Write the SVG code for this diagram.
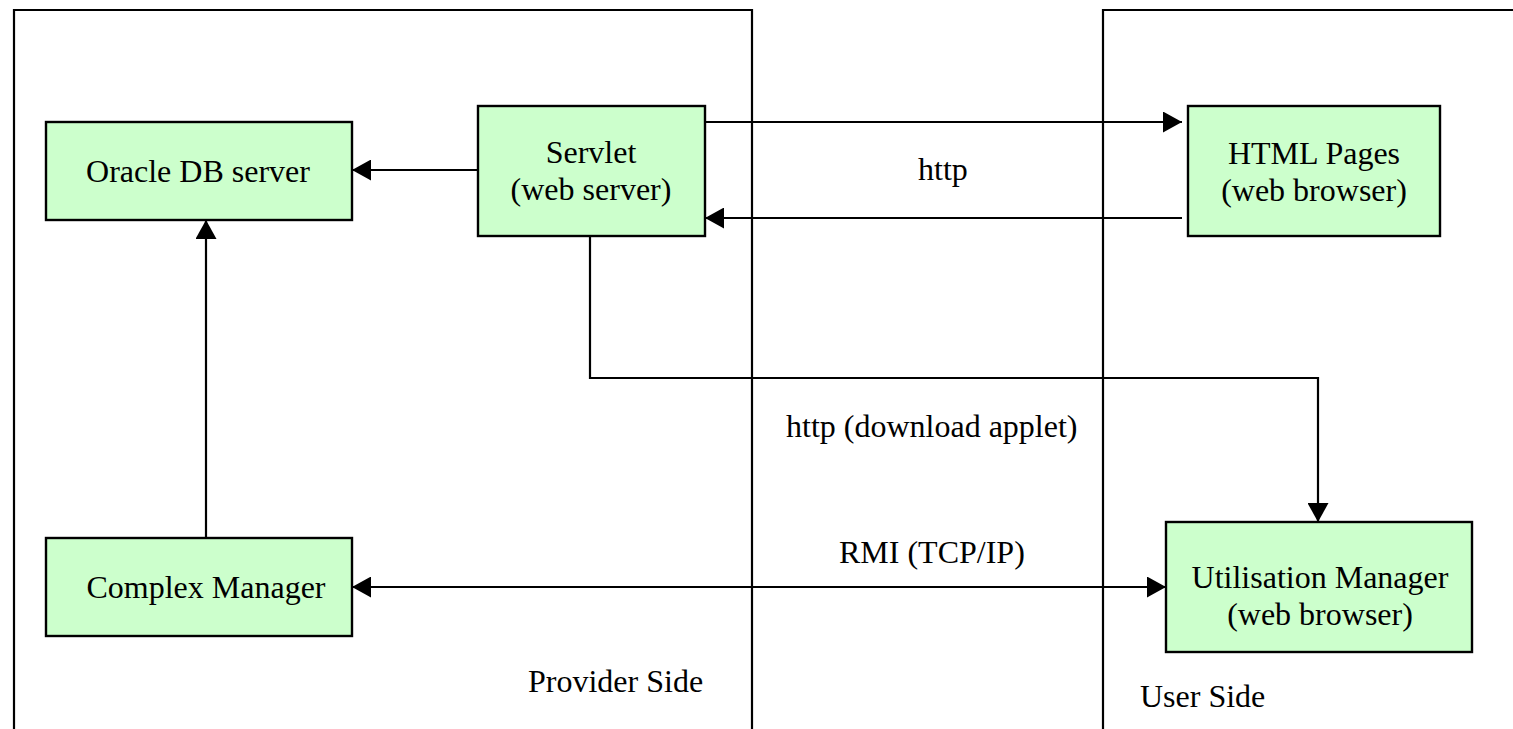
<svg xmlns="http://www.w3.org/2000/svg" width="1513" height="729" viewBox="0 0 1513 729">
  <style>
    .frame { fill: none; stroke: #000; stroke-width: 2.2; }
    .node rect { fill: #ccffcc; stroke: #000; stroke-width: 2.4; }
    .node text, .label { font-family: "Liberation Serif", "Times New Roman", serif; font-size: 32px; fill: #000; }
    .node text { text-anchor: middle; }
    .conn { fill: none; stroke: #000; stroke-width: 2.2; }
  </style>
  <defs>
    <marker id="arrow" markerUnits="userSpaceOnUse" markerWidth="20" markerHeight="21" refX="19" refY="10.5" orient="auto-start-reverse">
      <path d="M0,0 L19,10.5 L0,21 Z" fill="#000"/>
    </marker>
  </defs>

  <rect width="1513" height="729" fill="#fff"/>

  <!-- side frames -->
  <g id="provider-side">
    <path class="frame" d="M14,729 V10 H752 V729"/>
    <text class="label" x="528" y="692">Provider Side</text>
  </g>
  <g id="user-side">
    <path class="frame" d="M1103,729 V10 H1513"/>
    <text class="label" x="1140" y="707">User Side</text>
  </g>

  <!-- connectors -->
  <g id="connectors">
    <path class="conn" d="M477,170 H352" marker-end="url(#arrow)"/>
    <path class="conn" d="M206,538 V220" marker-end="url(#arrow)"/>
    <path class="conn" d="M705,122 H1182" marker-end="url(#arrow)"/>
    <path class="conn" d="M1182,218 H705" marker-end="url(#arrow)"/>
    <path class="conn" d="M590,236 V378 H1318 V522" marker-end="url(#arrow)"/>
    <path class="conn" d="M352,587 H1166" marker-start="url(#arrow)" marker-end="url(#arrow)"/>
    <text class="label" x="918" y="180">http</text>
    <text class="label" x="786" y="437">http (download applet)</text>
    <text class="label" x="839" y="563">RMI (TCP/IP)</text>
  </g>

  <!-- nodes -->
  <g id="oracle-db" class="node">
    <rect x="46" y="122" width="306" height="98"/>
    <text x="198" y="182">Oracle DB server</text>
  </g>
  <g id="servlet" class="node">
    <rect x="478" y="106" width="227" height="130"/>
    <text x="591" y="163">Servlet</text>
    <text x="591" y="200">(web server)</text>
  </g>
  <g id="html-pages" class="node">
    <rect x="1188" y="106" width="252" height="130"/>
    <text x="1314" y="164">HTML Pages</text>
    <text x="1314" y="201">(web browser)</text>
  </g>
  <g id="complex-manager" class="node">
    <rect x="46" y="538" width="306" height="98"/>
    <text x="206" y="598">Complex Manager</text>
  </g>
  <g id="utilisation-manager" class="node">
    <rect x="1166" y="522" width="306" height="130"/>
    <text x="1320" y="588">Utilisation Manager</text>
    <text x="1320" y="625">(web browser)</text>
  </g>
</svg>
